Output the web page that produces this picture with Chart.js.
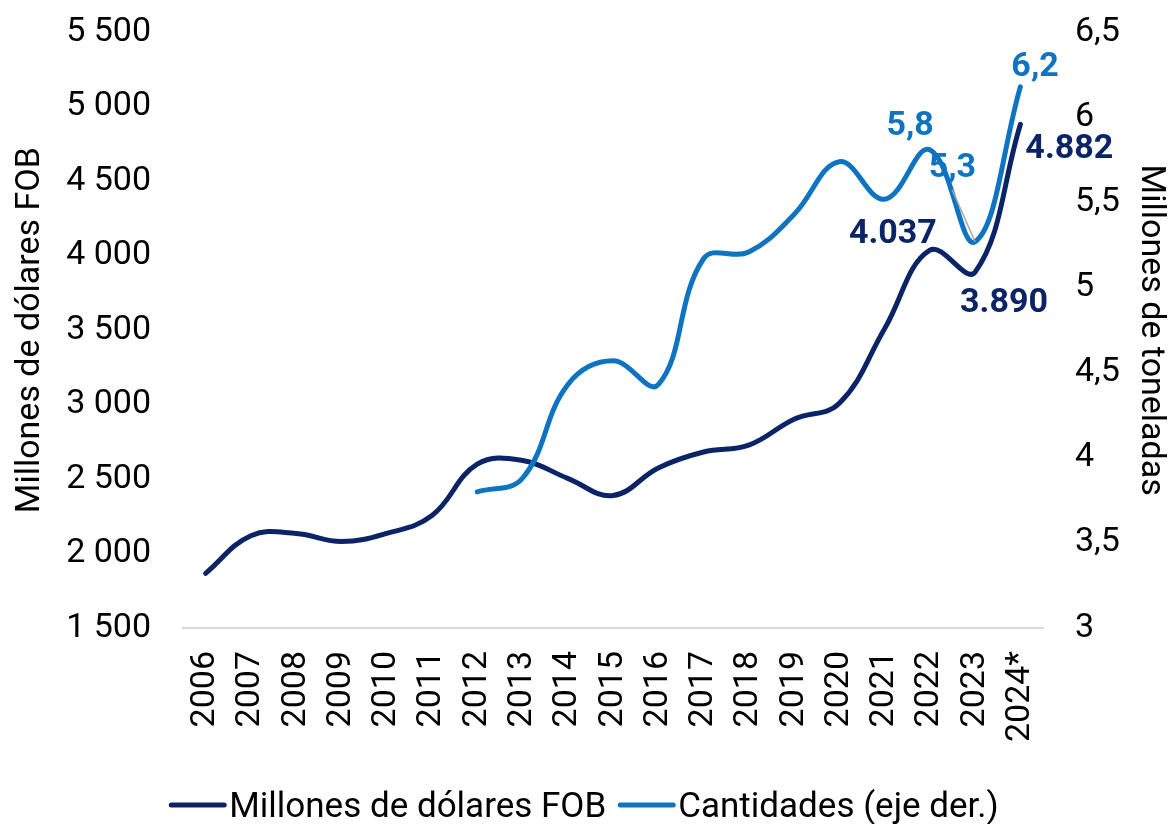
<!DOCTYPE html>
<html>
<head>
<meta charset="utf-8">
<script src="https://cdn.jsdelivr.net/npm/chart.js@4/dist/chart.umd.min.js"></script>
<style>
  html, body { margin: 0; padding: 0; background: #ffffff; }
  #wrap { width: 1168px; height: 824px; }
</style>
</head>
<body>
<div id="wrap"><canvas id="c" width="1168" height="824"></canvas></div>
<script>
const categories = ['2006','2007','2008','2009','2010','2011','2012','2013','2014','2015','2016','2017','2018','2019','2020','2021','2022','2023','2024*'];
const dolaresFOB = [1867, 2120, 2135, 2081, 2135, 2255, 2600, 2625, 2505, 2390, 2575, 2682, 2728, 2902, 3009, 3510, 4037, 3890, 4882];
const cantidades = [null, null, null, null, null, null, 3.80, 3.88, 4.43, 4.57, 4.43, 5.17, 5.21, 5.43, 5.74, 5.52, 5.81, 5.27, 6.18];
const leftTicks = { min: 1500, max: 5500, step: 500 };
const rightTicks = { min: 3, max: 6.5, step: 0.5 };
const seriesNames = ['Millones de dólares FOB', 'Cantidades (eje der.)'];
const leftTitle = 'Millones de dólares FOB';
const rightTitle = 'Millones de toneladas';

const DARK = '#0B2468';
const LIGHT = '#0E74C2';
const FONT = 'Roboto';
const FS = 34;

function fmtThousands(v, sep) {
  return String(Math.round(v)).replace(/\B(?=(\d{3})+(?!\d))/g, sep);
}
function fmtDec(v) {
  return (Math.round(v * 10) / 10).toString().replace('.', ',');
}

// label placements (offsets relative to the data point)
const labelSpecs = [
  { ds: 0, idx: 16, dx: 7,  dy: -16, align: 'right',  color: DARK,  fmt: v => fmtThousands(v, '.') },
  { ds: 0, idx: 17, dx: -15, dy: 31, align: 'left',   color: DARK,  fmt: v => fmtThousands(v, '.') },
  { ds: 0, idx: 18, dx: 5,  dy: 25,  align: 'left',   color: DARK,  fmt: v => fmtThousands(v, '.') },
  { ds: 1, idx: 16, dx: 4,  dy: -23, align: 'right',  color: LIGHT, fmt: fmtDec },
  { ds: 1, idx: 17, dx: 1,  dy: -73, align: 'right',  color: LIGHT, fmt: fmtDec, leader: { x: -23, y: -52 } },
  { ds: 1, idx: 18, dx: -9, dy: -19, align: 'left',   color: LIGHT, fmt: fmtDec }
];

const labelPlugin = {
  id: 'pointLabels',
  afterDatasetsDraw(chart) {
    const ctx = chart.ctx;
    ctx.save();
    labelSpecs.forEach(s => {
      const meta = chart.getDatasetMeta(s.ds);
      const pt = meta.data[s.idx];
      const v = chart.data.datasets[s.ds].data[s.idx];
      if (s.leader) {
        ctx.strokeStyle = '#A6A6A6';
        ctx.lineWidth = 1.5;
        ctx.beginPath();
        ctx.moveTo(pt.x + s.leader.x, pt.y + s.leader.y);
        ctx.lineTo(pt.x, pt.y);
        ctx.stroke();
      }
      ctx.font = 'bold ' + FS + 'px ' + FONT;
      ctx.fillStyle = s.color;
      ctx.textAlign = s.align;
      ctx.textBaseline = 'middle';
      ctx.fillText(s.fmt(v), pt.x + s.dx, pt.y + s.dy);
    });
    ctx.restore();
  },
  afterDraw(chart) {
    // legend
    const ctx = chart.ctx;
    ctx.save();
    ctx.font = '35px ' + FONT;
    const lineW = 57, gap = 3, itemGap = 12;
    const items = chart.data.datasets.map(d => ({ text: d.label, color: d.borderColor, w: ctx.measureText(d.label).width }));
    let total = 0;
    items.forEach((it, i) => { total += lineW + gap + it.w + (i < items.length - 1 ? itemGap : 0); });
    let x = (chart.width - total) / 2;
    const y = 805;
    items.forEach(it => {
      ctx.strokeStyle = it.color;
      ctx.lineWidth = 5;
      ctx.lineCap = 'round';
      ctx.beginPath();
      ctx.moveTo(x + 2, y);
      ctx.lineTo(x + lineW - 2, y);
      ctx.stroke();
      ctx.fillStyle = '#000000';
      ctx.textAlign = 'left';
      ctx.textBaseline = 'alphabetic';
      ctx.fillText(it.text, x + lineW + gap, y + 12);
      x += lineW + gap + it.w + itemGap;
    });
    ctx.restore();
  }
};

new Chart(document.getElementById('c'), {
  type: 'line',
  data: {
    labels: categories,
    datasets: [
      {
        label: seriesNames[0],
        data: dolaresFOB,
        yAxisID: 'y',
        borderColor: DARK,
        backgroundColor: DARK,
        borderWidth: 5,
        pointRadius: 0,
        tension: 0.4,
        borderCapStyle: 'round',
        order: 1
      },
      {
        label: seriesNames[1],
        data: cantidades,
        yAxisID: 'y1',
        borderColor: LIGHT,
        backgroundColor: LIGHT,
        borderWidth: 5,
        pointRadius: 0,
        tension: 0.4,
        borderCapStyle: 'round',
        order: 0
      }
    ]
  },
  options: {
    responsive: false,
    animation: false,
    layout: { padding: { top: 0, left: 0, right: 0, bottom: 0 } },
    plugins: {
      legend: { display: false },
      tooltip: { enabled: false }
    },
    scales: {
      x: {
        offset: true,
        grid: { display: false, drawTicks: false },
        border: { display: true, color: '#D9D9D9', width: 2 },
        ticks: {
          color: '#000000',
          font: { family: FONT, size: FS },
          minRotation: 90,
          maxRotation: 90,
          padding: 23,
          autoSkip: false
        },
        afterFit(scale) { scale.height = 196; }
      },
      y: {
        position: 'left',
        min: leftTicks.min,
        max: leftTicks.max,
        grid: { display: false, drawTicks: true, tickLength: 20 },
        border: { display: false },
        ticks: {
          stepSize: leftTicks.step,
          color: '#000000',
          font: { family: FONT, size: FS },
          padding: 12,
          callback: v => fmtThousands(v, ' ')
        },
        title: {
          display: true,
          text: leftTitle,
          color: '#000000',
          font: { family: FONT, size: FS, lineHeight: 1 },
          padding: { top: 13, bottom: 0 }
        },
        afterFit(scale) { scale.width = 183; }
      },
      y1: {
        position: 'right',
        min: rightTicks.min,
        max: rightTicks.max,
        grid: { display: false, drawTicks: true, tickLength: 20 },
        border: { display: false },
        ticks: {
          stepSize: rightTicks.step,
          color: '#000000',
          font: { family: FONT, size: FS },
          padding: 12,
          callback: v => fmtDec(v)
        },
        title: {
          display: true,
          text: rightTitle,
          color: '#000000',
          font: { family: FONT, size: FS, lineHeight: 1 },
          padding: { top: 1, bottom: 0 }
        },
        afterFit(scale) { scale.width = 125; }
      }
    }
  },
  plugins: [labelPlugin]
});
</script>
</body>
</html>
